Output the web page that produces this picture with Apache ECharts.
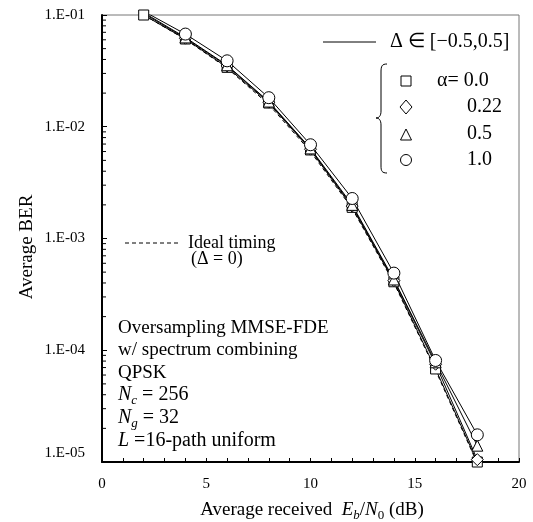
<!DOCTYPE html>
<html><head><meta charset="utf-8">
<script src="https://cdn.jsdelivr.net/npm/echarts@6/dist/echarts.min.js"></script>
<style>html,body{margin:0;padding:0;background:#fff}#c{width:533px;height:522px}</style>
</head><body><div id="c"></div>
<script>
// ---- data ----
const ebn0 = [2, 4, 6, 8, 10, 12, 14, 16, 18];
const berAlpha00  = [0.1, 0.061, 0.034, 0.0163, 0.0062, 0.00190, 0.00041, 6.8e-5, 1.0e-5];
const berAlpha022 = [0.103, 0.062, 0.035, 0.0166, 0.0063, 0.00195, 0.00042, 7.5e-5, 1.05e-5];
const berAlpha05  = [0.105, 0.063, 0.0355, 0.0168, 0.0064, 0.00200, 0.00043, 7.8e-5, 1.4e-5];
const berAlpha10  = [0.108, 0.0675, 0.0389, 0.0182, 0.0069, 0.00228, 0.00049, 8.1e-5, 1.75e-5];
const berIdeal    = [0.1, 0.0605, 0.0335, 0.0158, 0.0060, 0.00185, 0.00040, 6.6e-5, 9.7e-6];
const yTickValues = [1e-5, 1e-4, 1e-3, 1e-2, 1e-1];
const yTickLabels = ['1.E-05', '1.E-04', '1.E-03', '1.E-02', '1.E-01'];
const xTickLabels = ['0', '5', '10', '15', '20'];
const yMinorMultipliers = [2, 3, 4, 5, 6, 7, 8, 9];

const FONT = '"Liberation Serif", "Times New Roman", serif';
const pairs = arr => ebn0.map((x, i) => [x, arr[i]]);
const yMinor = [];
yTickValues.slice(0, 4).forEach(d => yMinorMultipliers.forEach(m => yMinor.push([0, d * m])));

function markSeries(name, arr, symbol, size) {
  return {
    name, type: 'line', data: pairs(arr), symbol, symbolSize: size,
    showAllSymbol: true,
    lineStyle: { color: '#000', width: 1 },
    itemStyle: { color: '#fff', borderColor: '#000', borderWidth: 1 },
    z: 3
  };
}

const chart = echarts.init(document.getElementById('c'), null, { renderer: 'canvas' });
const txt = (x, y, text, size, extra) => ({
  type: 'text', x, y,
  style: Object.assign({ text, font: size + 'px ' + FONT, fill: '#000', verticalAlign: 'middle', align: 'left' }, extra || {})
});

const richBase = {
  i: { fontFamily: FONT, fontStyle: 'italic', fontSize: 20, lineHeight: 24, verticalAlign: 'middle' },
  sub: { fontFamily: FONT, fontStyle: 'italic', fontSize: 13, lineHeight: 24, verticalAlign: 'bottom' },
  n: { fontFamily: FONT, fontSize: 20, lineHeight: 24 }
};

const option = {
  animation: false,
  backgroundColor: '#fff',
  grid: { left: 102, right: 14, top: 15, bottom: 60, show: true, borderColor: '#777', borderWidth: 1 },
  xAxis: {
    type: 'value', min: 0, max: 20, interval: 5,
    axisLine: { show: true, lineStyle: { color: '#000', width: 2 } },
    axisTick: { show: true, inside: true, length: 4, lineStyle: { color: '#000' } },
    minorTick: { show: true, splitNumber: 5, length: 4, lineStyle: { color: '#000' } },
    splitLine: { show: false },
    axisLabel: { margin: 15, fontFamily: FONT, fontSize: 15, color: '#000',
      formatter: v => xTickLabels[Math.round(v / 5)] }
  },
  yAxis: {
    type: 'log', logBase: 10, min: 1e-5, max: 0.1,
    axisLine: { show: true, lineStyle: { color: '#000', width: 2 } },
    axisTick: { show: true, inside: true, length: 5, lineStyle: { color: '#000' } },
    splitLine: { show: false },
    axisLabel: { margin: 17, fontFamily: FONT, fontSize: 15, color: '#000',
      rich: { up: { fontFamily: FONT, fontSize: 15, color: '#000', padding: [0, 0, 18, 0] } },
      formatter: v => {
        const i = yTickValues.findIndex(t => Math.abs(Math.log10(t) - Math.log10(v)) < 1e-6);
        if (i < 0) return '';
        return i === 0 ? '{up|' + yTickLabels[i] + '}' : yTickLabels[i];
      } }
  },
  series: [
    {
      type: 'custom', data: yMinor, clip: false, z: 5,
      renderItem: (params, api) => {
        const p = api.coord([api.value(0), api.value(1)]);
        return { type: 'line', shape: { x1: p[0], y1: p[1], x2: p[0] + 4, y2: p[1] }, style: { stroke: '#000', lineWidth: 1 } };
      }
    },
    { name: 'ideal', type: 'line', data: pairs(berIdeal), symbol: 'none',
      lineStyle: { color: '#000', width: 1, type: [4, 3] }, z: 2 },
    markSeries('a00', berAlpha00, 'rect', 10),
    markSeries('a022', berAlpha022, 'diamond', 12),
    markSeries('a05', berAlpha05, 'triangle', 11),
    markSeries('a10', berAlpha10, 'circle', 12)
  ],
  graphic: [
    { type: 'text', x: 27, y: 247, rotation: Math.PI / 2,
      style: { text: 'Average BER', font: '19px ' + FONT, fill: '#000', align: 'center', verticalAlign: 'middle' } },
    { type: 'text', x: 312, y: 510,
      style: { text: '{n|Average received  }{i|E}{sub|b}{n|/}{i|N}{s0|0}{n| (dB)}', align: 'center', verticalAlign: 'middle',
        rich: {
          n: { fontFamily: FONT, fontSize: 19, lineHeight: 24 },
          i: { fontFamily: FONT, fontStyle: 'italic', fontSize: 19, lineHeight: 24 },
          sub: { fontFamily: FONT, fontStyle: 'italic', fontSize: 13, lineHeight: 24, verticalAlign: 'bottom' },
          s0: { fontFamily: FONT, fontSize: 13, lineHeight: 24, verticalAlign: 'bottom' }
        } } },
    { type: 'line', shape: { x1: 323, y1: 42, x2: 376, y2: 42 }, style: { stroke: '#000', lineWidth: 1 } },
    txt(390, 42, 'Δ ∈ [−0.5,0.5]', 20),
    { type: 'bezierCurve', shape: { x1: 387, y1: 64, cpx1: 382, cpy1: 64, cpx2: 381, cpy2: 66, x2: 381, y2: 72 }, style: { stroke: '#000', lineWidth: 1, fill: null } },
    { type: 'line', shape: { x1: 381, y1: 72, x2: 381, y2: 111 }, style: { stroke: '#000', lineWidth: 1 } },
    { type: 'bezierCurve', shape: { x1: 381, y1: 111, cpx1: 381, cpy1: 116, cpx2: 379, cpy2: 118, x2: 376, y2: 118 }, style: { stroke: '#000', lineWidth: 1, fill: null } },
    { type: 'bezierCurve', shape: { x1: 376, y1: 118, cpx1: 379, cpy1: 118, cpx2: 381, cpy2: 120, x2: 381, y2: 125 }, style: { stroke: '#000', lineWidth: 1, fill: null } },
    { type: 'line', shape: { x1: 381, y1: 125, x2: 381, y2: 166 }, style: { stroke: '#000', lineWidth: 1 } },
    { type: 'bezierCurve', shape: { x1: 381, y1: 166, cpx1: 381, cpy1: 171, cpx2: 382, cpy2: 173, x2: 387, y2: 173 }, style: { stroke: '#000', lineWidth: 1, fill: null } },
    { type: 'rect', shape: { x: 401, y: 76, width: 10, height: 10 }, style: { fill: '#fff', stroke: '#000', lineWidth: 1 } },
    { type: 'polygon', shape: { points: [[406, 100], [412, 107], [406, 114], [400, 107]] }, style: { fill: '#fff', stroke: '#000', lineWidth: 1 } },
    { type: 'polygon', shape: { points: [[406, 129], [411.5, 140], [400.5, 140]] }, style: { fill: '#fff', stroke: '#000', lineWidth: 1 } },
    { type: 'circle', shape: { cx: 406, cy: 160, r: 5.5 }, style: { fill: '#fff', stroke: '#000', lineWidth: 1 } },
    txt(437, 81, 'α= 0.0', 20),
    txt(467, 107, '0.22', 20),
    txt(467, 134, '0.5', 20),
    txt(467, 160, '1.0', 20),
    { type: 'line', shape: { x1: 125, y1: 243, x2: 180, y2: 243 }, style: { stroke: '#000', lineWidth: 1, lineDash: [4, 3] } },
    txt(188, 243, 'Ideal timing', 18),
    txt(191, 259, '(Δ = 0)', 18),
    txt(118, 328, 'Oversampling MMSE-FDE', 19),
    txt(118, 350, 'w/ spectrum combining', 19),
    txt(118, 373, 'QPSK', 19),
    { type: 'text', x: 118, y: 395, style: { text: '{i|N}{sub|c}{n| = 256}', verticalAlign: 'middle', rich: richBase } },
    { type: 'text', x: 118, y: 418, style: { text: '{i|N}{sub|g}{n| = 32}', verticalAlign: 'middle', rich: richBase } },
    { type: 'text', x: 118, y: 441, style: { text: '{i|L}{n| =16-path uniform}', verticalAlign: 'middle', rich: richBase } }
  ]
};
chart.setOption(option);
</script>
</body></html>
